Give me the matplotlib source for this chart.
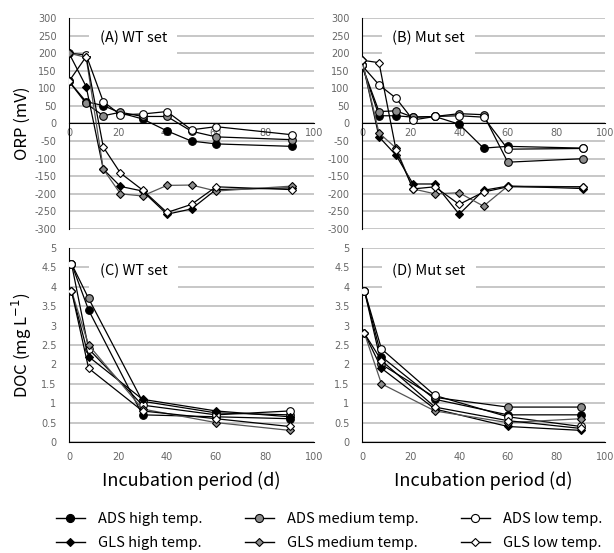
import matplotlib.pyplot as plt
from matplotlib.lines import Line2D

# incubation days
orp_days = [0, 7, 14, 21, 30, 40, 50, 60, 91]
doc_days = [1, 8, 30, 60, 90]

SERIES = ["ADS high temp.", "ADS medium temp.", "ADS low temp.",
          "GLS high temp.", "GLS medium temp.", "GLS low temp."]

# ORP (mV), WT set
orp_wt_ads_high = [120, 62, 51, 30, 13, -21, -50, -58, -65]
orp_wt_ads_med = [120, 57, 22, 32, 20, 20, -22, -38, -46]
orp_wt_ads_low = [200, 195, 62, 25, 27, 34, -18, -9, -32]
orp_wt_gls_high = [200, 105, -130, -179, -192, -258, -243, -188, -183]
orp_wt_gls_med = [200, 188, -130, -200, -206, -176, -175, -192, -178]
orp_wt_gls_low = [120, 190, -67, -141, -189, -253, -230, -180, -188]

# ORP (mV), Mut set
orp_mut_ads_high = [165, 22, 22, 18, 20, -2, -70, -65, -70]
orp_mut_ads_med = [165, 34, 36, 18, 20, 28, 25, -110, -100]
orp_mut_ads_low = [165, 110, 72, 10, 20, 22, 18, -73, -71]
orp_mut_gls_high = [180, -38, -90, -172, -172, -258, -190, -178, -185]
orp_mut_gls_med = [180, -27, -70, -186, -200, -197, -235, -178, -180]
orp_mut_gls_low = [180, 173, -75, -186, -180, -230, -195, -180, -180]

# DOC (mg/L), WT set
doc_wt_ads_high = [4.6, 3.4, 0.7, 0.65, 0.6]
doc_wt_ads_med = [4.6, 3.7, 1.05, 0.75, 0.7]
doc_wt_ads_low = [4.6, 2.4, 0.95, 0.7, 0.8]
doc_wt_gls_high = [3.9, 2.2, 1.1, 0.8, 0.65]
doc_wt_gls_med = [3.9, 2.5, 0.85, 0.5, 0.3]
doc_wt_gls_low = [3.9, 1.9, 0.8, 0.6, 0.4]

# DOC (mg/L), Mut set
doc_mut_ads_high = [3.9, 2.2, 1.1, 0.7, 0.7]
doc_mut_ads_med = [3.9, 2.0, 1.15, 0.9, 0.9]
doc_mut_ads_low = [3.9, 2.4, 1.2, 0.65, 0.4]
doc_mut_gls_high = [2.8, 1.9, 0.85, 0.4, 0.3]
doc_mut_gls_med = [2.8, 1.5, 0.8, 0.5, 0.6]
doc_mut_gls_low = [2.8, 2.1, 0.9, 0.55, 0.35]

STYLE = {
    "ADS high temp.": dict(marker="o", mfc="black", ms=5.5, color="black"),
    "ADS medium temp.": dict(marker="o", mfc="#8c8c8c", ms=5.5, color="black"),
    "ADS low temp.": dict(marker="o", mfc="white", ms=5.5, color="black"),
    "GLS high temp.": dict(marker="D", mfc="black", ms=3.6, color="black"),
    "GLS medium temp.": dict(marker="D", mfc="#8c8c8c", ms=3.6, color="#555555"),
    "GLS low temp.": dict(marker="D", mfc="white", ms=3.6, color="black"),
}

W, H = 614, 553
fig = plt.figure(figsize=(W / 100, H / 100), dpi=100)
GRID = "#bdbdbd"
TICK = "#666666"
JP = ["Noto Sans CJK JP", "DejaVu Sans"]


def px_axes(left, top, right, bottom):
    return fig.add_axes([left / W, 1 - bottom / H, (right - left) / W, (bottom - top) / H])


def draw(ax, days, data, ylim, ystep, label, label_y, ylabel_fmt):
    for name, vals in zip(SERIES, data):
        st = STYLE[name]
        ax.plot(days, vals, lw=0.9, color=st["color"], marker=st["marker"],
                ms=st["ms"], mfc=st["mfc"], mec="black", mew=0.8, zorder=3)
    ax.set_xlim(0, 100)
    ax.set_ylim(*ylim)
    n = int(round((ylim[1] - ylim[0]) / ystep))
    ticks = [ylim[0] + i * ystep for i in range(n + 1)]
    ax.set_yticks(ticks)
    ax.set_yticklabels([ylabel_fmt(t) for t in ticks])
    ax.set_xticks(range(0, 101, 20))
    for t in ticks:
        ax.axhline(t, color=GRID, lw=1.2, zorder=0)
    for s in ["top", "right"]:
        ax.spines[s].set_visible(False)
    ax.spines["left"].set_color("black")
    ax.spines["bottom"].set_color("black")
    ax.tick_params(length=0, labelsize=7, labelcolor=TICK, pad=9)
    ax.text(12.5, label_y, label, fontsize=10.5, family=JP, va="center",
            ha="left", zorder=4,
            bbox=dict(facecolor="white", edgecolor="none", boxstyle="square,pad=0.7"))
    ax.set_facecolor("white")


def fmt_int(t):
    return f"{int(t)}"


def fmt_doc(t):
    return f"{t:g}"


axA = px_axes(69, 18, 314, 229)
axB = px_axes(362, 18, 605, 229)
axC = px_axes(69, 248, 314, 442)
axD = px_axes(362, 248, 605, 442)

draw(axA, orp_days, [orp_wt_ads_high, orp_wt_ads_med, orp_wt_ads_low,
                     orp_wt_gls_high, orp_wt_gls_med, orp_wt_gls_low],
     (-300, 300), 50, "(A) WT set", 243, fmt_int)
draw(axB, orp_days, [orp_mut_ads_high, orp_mut_ads_med, orp_mut_ads_low,
                     orp_mut_gls_high, orp_mut_gls_med, orp_mut_gls_low],
     (-300, 300), 50, "(B) Mut set", 243, fmt_int)
draw(axC, doc_days, [doc_wt_ads_high, doc_wt_ads_med, doc_wt_ads_low,
                     doc_wt_gls_high, doc_wt_gls_med, doc_wt_gls_low],
     (0, 5), 0.5, "(C) WT set", 4.4, fmt_doc)
draw(axD, doc_days, [doc_mut_ads_high, doc_mut_ads_med, doc_mut_ads_low,
                     doc_mut_gls_high, doc_mut_gls_med, doc_mut_gls_low],
     (0, 5), 0.5, "(D) Mut set", 4.4, fmt_doc)

# ORP panels: x axis sits on the zero line
for ax in (axA, axB):
    ax.spines["bottom"].set_position(("data", 0))
    ax.tick_params(axis="x", pad=3)
    ax.set_zorder(1)
for ax in (axC, axD):
    ax.tick_params(axis="x", pad=7)
    ax.set_xlabel("Incubation period (d)", fontsize=13, family=JP, labelpad=7)

fig.text(22 / W, 1 - 123 / H, "ORP (mV)", rotation=90, fontsize=12,
         family=JP, ha="center", va="center")
fig.text(22 / W, 1 - 345 / H, "DOC (mg L$^{-1}$)", rotation=90, fontsize=12,
         family=JP, ha="center", va="center")

order = ["ADS high temp.", "GLS high temp.", "ADS medium temp.",
         "GLS medium temp.", "ADS low temp.", "GLS low temp."]
handles = []
for name in order:
    st = STYLE[name]
    handles.append(Line2D([], [], color="black", lw=1.0, marker=st["marker"],
                          ms=st["ms"] + 0.3, mfc=st["mfc"], mec="black", mew=0.8))
fig.legend(handles, order, ncol=3, loc="center", bbox_to_anchor=(329 / W, 1 - 531 / H),
           frameon=False, handlelength=2.0, handletextpad=0.9, columnspacing=2.9,
           labelspacing=0.7, prop={"family": JP, "size": 10.5})

fig.savefig("out.png", dpi=100)
